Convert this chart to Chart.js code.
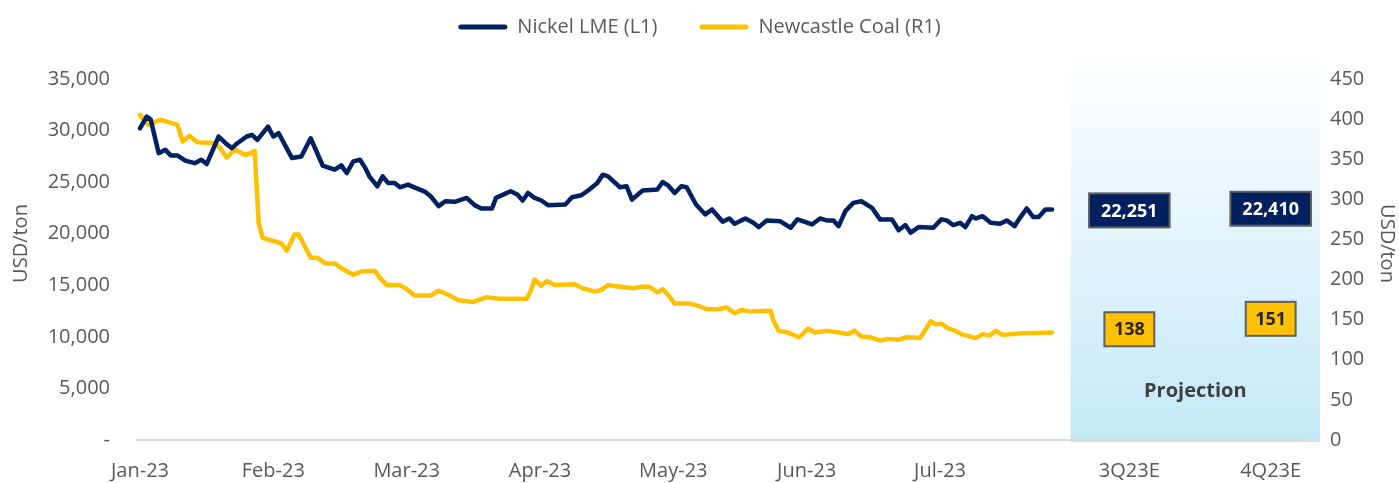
<!DOCTYPE html>
<html>
<head>
<meta charset="utf-8">
<script src="https://cdn.jsdelivr.net/npm/chart.js@4.4.1/dist/chart.umd.min.js"></script>
<style>
  html, body { margin: 0; padding: 0; background: #fff; }
  #wrap { width: 1399px; height: 483px; }
</style>
</head>
<body>
<div id="wrap"><canvas id="chart" width="1399" height="483"></canvas></div>
<script>
// x positions are in "month slots": 0 = Jan-23, 1 = Feb-23 ...
const monthTicks = ['Jan-23', 'Feb-23', 'Mar-23', 'Apr-23', 'May-23', 'Jun-23', 'Jul-23'];
const projTicks = ['3Q23E', '4Q23E'];
const projPos = [7.42, 8.48];
const leftTicks = [0, 5000, 10000, 15000, 20000, 25000, 30000, 35000];
const rightTicks = [0, 50, 100, 150, 200, 250, 300, 350, 400, 450];

const nickelPos = [0,0.05,0.08,0.14,0.19,0.23,0.28,0.34,0.41,0.46,
  0.50,0.59,0.65,0.69,0.73,0.80,0.84,0.88,0.96,1.00,
  1.04,1.14,1.21,1.28,1.37,1.46,1.51,1.55,1.60,1.65,
  1.69,1.72,1.78,1.82,1.86,1.91,1.95,2.01,2.08,2.14,
  2.18,2.24,2.29,2.36,2.45,2.51,2.56,2.64,2.67,2.78,
  2.83,2.87,2.91,2.96,3.01,3.06,3.19,3.24,3.31,3.37,
  3.43,3.47,3.51,3.60,3.65,3.69,3.77,3.88,3.92,3.96,
  4.01,4.06,4.10,4.17,4.24,4.29,4.37,4.42,4.46,4.54,
  4.60,4.64,4.70,4.80,4.88,4.93,4.97,5.04,5.10,5.15,
  5.20,5.24,5.29,5.35,5.41,5.49,5.55,5.64,5.69,5.74,
  5.78,5.84,5.95,6.01,6.05,6.10,6.15,6.19,6.24,6.27,
  6.32,6.38,6.45,6.50,6.56,6.60,6.65,6.70,6.74,6.79,
  6.84];
const nickelUsd = [30200,31340,31050,27800,28130,27580,27580,27070,26830,27160,
  26740,29410,28670,28280,28760,29410,29570,29090,30370,29410,
  29730,27320,27480,29240,26600,26200,26610,25870,27000,27160,
  26350,25550,24590,25550,24910,24910,24490,24750,24360,24040,
  23620,22660,23140,23080,23460,22760,22440,22440,23460,24100,
  23790,23210,23940,23460,23210,22760,22820,23530,23720,24270,
  24910,25710,25550,24490,24590,23300,24170,24270,25000,24680,
  23940,24590,24490,22820,21860,22340,21150,21470,20950,21470,
  21050,20630,21280,21210,20570,21380,21210,20890,21470,21280,
  21280,20730,22180,22980,23140,22500,21380,21380,20330,20830,
  20090,20630,20570,21380,21280,20830,21050,20630,21690,21470,
  21690,21050,20950,21280,20730,21530,22440,21600,21600,22340,
  22340];

const coalPos = [0,0.06,0.15,0.28,0.32,0.37,0.43,0.55,0.60,0.65,
  0.71,0.79,0.86,0.89,0.92,1.00,1.06,1.10,1.16,1.19,
  1.28,1.33,1.39,1.46,1.52,1.60,1.66,1.76,1.80,1.85,
  1.95,2.00,2.06,2.18,2.24,2.31,2.39,2.50,2.60,2.70,
  2.90,2.93,2.96,3.01,3.05,3.11,3.26,3.32,3.41,3.46,
  3.51,3.60,3.70,3.76,3.82,3.88,3.92,3.96,4.01,4.12,
  4.19,4.25,4.33,4.40,4.46,4.51,4.58,4.73,4.75,4.79,
  4.86,4.94,4.97,5.01,5.06,5.15,5.24,5.31,5.36,5.41,
  5.48,5.55,5.61,5.69,5.75,5.85,5.87,5.93,5.97,6.01,
  6.06,6.10,6.16,6.27,6.32,6.37,6.42,6.47,6.62,6.84];
const coalUsd = [405,393,399,393,372,379,371,370,364,352,
  362,355,360,270,252,248,245,236,256,256,
  227,227,220,220,213,206,210,211,202,193,
  193,188,180,180,186,181,174,172,178,176,
  176,186,200,192,198,193,194,189,185,187,
  193,191,189,191,191,184,188,181,170,170,
  167,163,163,165,158,162,160,161,149,136,
  134,128,132,139,134,136,134,132,136,129,
  128,124,126,125,128,127,132,148,144,145,
  139,137,132,127,132,130,136,131,133,134];

const nickelProj = [22251, 22410];
const coalProj = [138, 151];

const NAVY = '#002060';
const GOLD = '#FFC000';
const GREY = '#595959';

// scale ranges (the plot top sits a bit above the last tick)
const xMin = -0.0225, xMax = 8.76;
const leftMax = 38085, rightMax = 489.7;
const bandFrom = 6.98, bandTo = 8.85;
const projTextY = 61;

const tickPos = [0, 1, 2, 3, 4, 5, 6, ...projPos];
const tickText = [...monthTicks, ...projTicks];

const toPoints = (xs, ys) => xs.map((x, i) => ({ x, y: ys[i] }));

Chart.defaults.font.family = '"Open Sans", "Noto Sans", sans-serif';
Chart.defaults.color = GREY;

// shaded projection area
const bandPlugin = {
  id: 'band',
  beforeDraw(chart) {
    const { ctx, chartArea, scales } = chart;
    const x0 = scales.x.getPixelForValue(bandFrom);
    const x1 = scales.x.getPixelForValue(bandTo);
    const top = chartArea.top;
    const bottom = scales.yL.getPixelForValue(0) + 2;
    const g = ctx.createLinearGradient(0, top, 0, bottom);
    g.addColorStop(0, '#ffffff');
    g.addColorStop(1, '#c3e8f8');
    ctx.save();
    ctx.fillStyle = g;
    ctx.fillRect(x0, top, x1 - x0, bottom - top);
    ctx.restore();
  }
};

// boxed value labels + "Projection" caption
const labelPlugin = {
  id: 'boxLabels',
  afterDatasetsDraw(chart) {
    const { ctx, scales } = chart;
    ctx.save();
    ctx.font = 'bold 18px "Open Sans", "Noto Sans", sans-serif';
    ctx.textAlign = 'center';
    ctx.textBaseline = 'middle';
    chart.data.datasets.forEach((ds, i) => {
      if (!ds.boxFill) return;
      const meta = chart.getDatasetMeta(i);
      meta.data.forEach((pt, j) => {
        const txt = ds.data[j].y.toLocaleString('en-US');
        const w = ctx.measureText(txt).width + ds.boxPad * 2;
        const h = 34;
        ctx.fillStyle = ds.boxFill;
        ctx.fillRect(pt.x - w / 2, pt.y - h / 2, w, h);
        ctx.lineWidth = 2;
        ctx.strokeStyle = '#5f5f5f';
        ctx.strokeRect(pt.x - w / 2, pt.y - h / 2, w, h);
        ctx.fillStyle = ds.boxText;
        ctx.fillText(txt, pt.x, pt.y + 1);
      });
    });
    const cx = (scales.x.getPixelForValue(bandFrom) + scales.x.getPixelForValue(bandTo)) / 2;
    ctx.font = 'bold 20px "Open Sans", "Noto Sans", sans-serif';
    ctx.fillStyle = '#404040';
    ctx.fillText('Projection', cx, scales.yR.getPixelForValue(projTextY));
    ctx.restore();
  }
};

new Chart(document.getElementById('chart'), {
  type: 'line',
  data: {
    datasets: [
      {
        label: 'Nickel LME (L1)',
        data: toPoints(nickelPos, nickelUsd),
        yAxisID: 'yL',
        borderColor: NAVY,
        backgroundColor: NAVY,
        borderWidth: 4.5,
        borderJoinStyle: 'round',
        borderCapStyle: 'round',
        pointRadius: 0,
        tension: 0
      },
      {
        label: 'Newcastle Coal (R1)',
        data: toPoints(coalPos, coalUsd),
        yAxisID: 'yR',
        borderColor: GOLD,
        backgroundColor: GOLD,
        borderWidth: 4.5,
        borderJoinStyle: 'round',
        borderCapStyle: 'round',
        pointRadius: 0,
        tension: 0
      },
      {
        label: 'Nickel projection',
        data: toPoints(projPos, nickelProj),
        yAxisID: 'yL',
        showLine: false,
        pointRadius: 0,
        boxFill: NAVY, boxText: '#ffffff', boxPad: 12
      },
      {
        label: 'Coal projection',
        data: toPoints(projPos, coalProj),
        yAxisID: 'yR',
        showLine: false,
        pointRadius: 0,
        boxFill: GOLD, boxText: '#262626', boxPad: 9.5
      }
    ]
  },
  options: {
    responsive: false,
    animation: false,
    layout: { padding: { top: -25, left: 0, right: 0, bottom: 0 } },
    plugins: {
      tooltip: { enabled: false },
      legend: {
        position: 'top',
        labels: {
          boxWidth: 49,
          boxHeight: 5,
          padding: 42,
          color: GREY,
          font: { size: 20 },
          useBorderRadius: true,
          borderRadius: 2.5,
          filter: item => item.datasetIndex < 2,
          generateLabels: chart => {
            const items = Chart.defaults.plugins.legend.labels.generateLabels(chart);
            return items.map(it => ({ ...it, lineWidth: 0, fillStyle: it.strokeStyle }));
          }
        }
      }
    },
    scales: {
      x: {
        type: 'linear',
        min: xMin,
        max: xMax,
        grid: { display: false, drawTicks: false },
        border: { display: true, color: '#d9d9d9', width: 2 },
        afterBuildTicks: s => { s.ticks = tickPos.map(v => ({ value: v })); },
        afterFit: s => { s.height = 43; },
        ticks: {
          autoSkip: false,
          maxRotation: 0,
          padding: 19,
          color: GREY,
          font: { size: 20 },
          callback: (v, i) => tickText[i]
        }
      },
      yL: {
        position: 'left',
        min: 0,
        max: leftMax,
        grid: { display: false, drawTicks: false },
        border: { display: false },
        afterBuildTicks: s => { s.ticks = leftTicks.map(v => ({ value: v })); },
        afterFit: s => { s.width = 137; },
        ticks: {
          autoSkip: false,
          padding: 27,
          color: GREY,
          font: { size: 20 },
          callback: v => v === 0 ? '-' : v.toLocaleString('en-US')
        },
        title: {
          display: true,
          text: 'USD/ton',
          color: GREY,
          font: { size: 20 },
          padding: { top: 9, bottom: 0 }
        }
      },
      yR: {
        position: 'right',
        min: 0,
        max: rightMax,
        grid: { display: false, drawTicks: false },
        border: { display: false },
        afterBuildTicks: s => { s.ticks = rightTicks.map(v => ({ value: v })); },
        afterFit: s => { s.width = 91; },
        ticks: {
          autoSkip: false,
          padding: 22,
          color: GREY,
          font: { size: 20 }
        },
        title: {
          display: true,
          text: 'USD/ton',
          color: GREY,
          font: { size: 20 },
          padding: { top: 0, bottom: 0 }
        }
      }
    }
  },
  plugins: [bandPlugin, labelPlugin]
});
</script>
</body>
</html>
